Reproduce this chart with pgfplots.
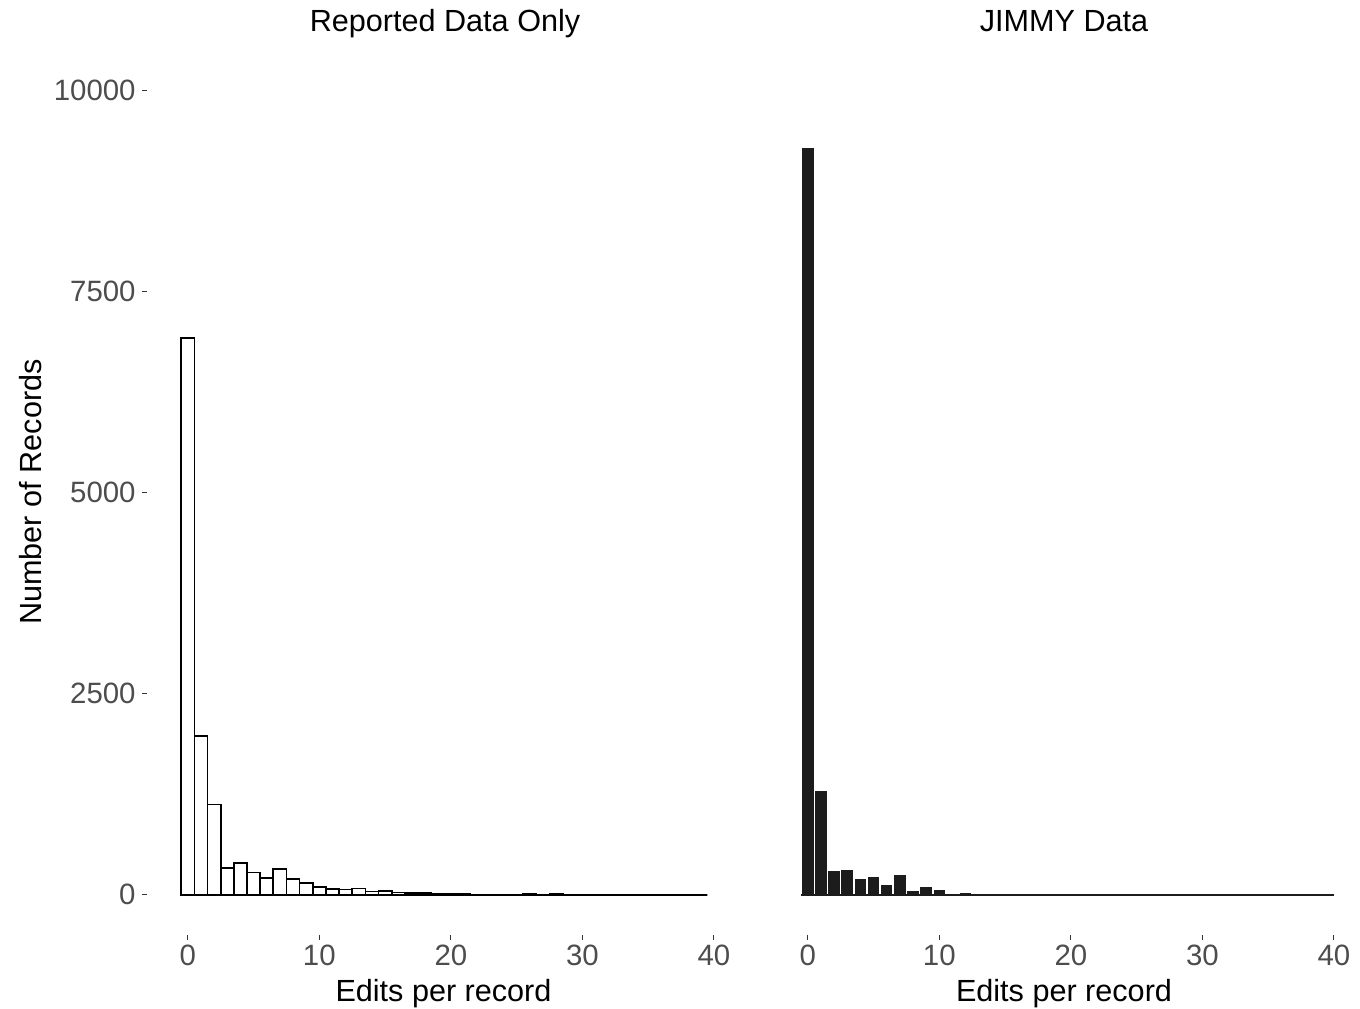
\documentclass[border=0pt]{standalone}
\usepackage{fontspec}
\setmainfont{Liberation Sans}
\usepackage{pgfplots}
\pgfplotsset{compat=1.18}
\usepackage{pgfplotstable}

\definecolor{ticktext}{HTML}{4D4D4D}
\definecolor{tickline}{HTML}{333333}
\definecolor{barfill}{HTML}{1C1C1C}

% edits per record, bins of width 1
\pgfplotstableread{
x y
0 6920
1 1970
2 1123
3 329
4 399
5 275
6 208
7 316
8 196
9 143
10 97
11 72
12 64
13 77
14 40
15 45
16 27
17 25
18 23
19 15
20 10
21 8
22 4
23 3
24 3
25 3
26 10
27 3
28 10
29 5
30 2
31 2
32 5
33 0
34 0
35 0
36 0
37 0
38 0
39 0
}\reported

\pgfplotstableread{
x y
0 9288
1 1296
2 300
3 313
4 205
5 226
6 130
7 250
8 52
9 109
10 72
11 15
12 27
13 0
14 0
15 0
16 0
17 0
18 0
19 0
20 0
}\jimmy

\pgfplotsset{
  panel/.style={
    scale only axis,
    width=294pt, height=442.5pt,
    xmin=-3.1, xmax=41.6,
    ymin=-500, ymax=10500,
    axis line style={draw=none},
    tick align=outside,
    major tick length=2.5pt,
    tick style={draw=tickline, line width=0.5pt},
    xtick={0,10,20,30,40},
    ytick={0,2500,5000,7500,10000},
    scaled y ticks=false,
    xtick pos=bottom, ytick pos=left,
    /pgf/number format/assume math mode=true,
    /pgf/number format/1000 sep={},
    ticklabel style={font=\fontsize{14.7}{17}\selectfont, text=ticktext},
    xticklabel style={inner sep=0pt, yshift=-2.5pt},
    yticklabel style={inner sep=0pt, xshift=-3pt},
    ybar, bar width=1, bar shift=0pt,
    clip=false,
  },
}

\begin{document}
\begin{tikzpicture}
\begin{axis}[panel, at={(73.5pt,36pt)}, anchor=south west]
\addplot[fill=white, draw=black, line width=0.85pt] table[x=x, y=y] {\reported};
\end{axis}

\begin{axis}[panel, at={(383.5pt,36pt)}, anchor=south west,
  ytick=\empty]
\addplot[fill=barfill, draw=white, line width=0.8pt] table[x=x, y=y] {\jimmy};
\addplot[sharp plot, draw=barfill, line width=0.8pt] coordinates {(-0.5,0) (40,0)};
\end{axis}

\begin{scope}[every node/.style={font=\fontsize{15.3}{18}\selectfont, inner sep=0pt}]
\node[anchor=base] at (222.5pt,487.5pt) {Reported Data Only};
\node[anchor=base] at (532pt,487.5pt) {JIMMY Data};
\node[anchor=base] at (221.75pt,2.5pt) {Edits per record};
\node[anchor=base] at (532pt,2.5pt) {Edits per record};
\node[rotate=90] at (15.5pt,257.5pt) {Number of Records};
\end{scope}
\path[use as bounding box] (0pt,0pt) rectangle (680pt,503.5pt);
\end{tikzpicture}
\end{document}
